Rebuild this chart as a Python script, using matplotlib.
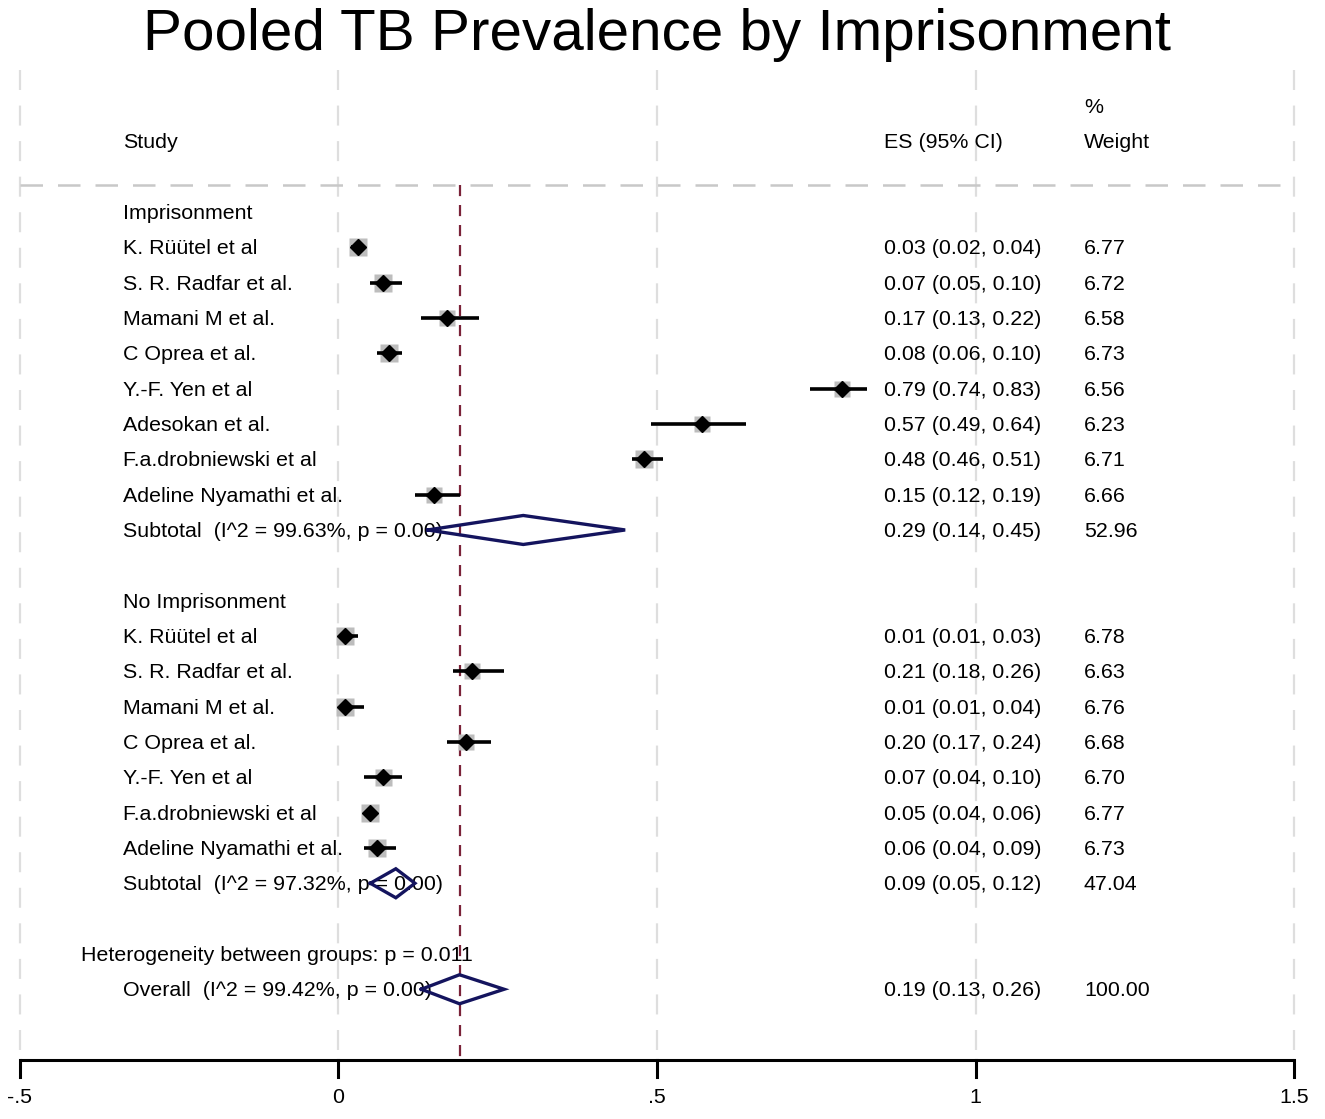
import matplotlib
matplotlib.use("Agg")
import matplotlib.pyplot as plt
import numpy as np

plt.rcParams['font.family'] = ['Liberation Sans', 'DejaVu Sans']

title = "Pooled TB Prevalence by Imprisonment"
group_names = ["Imprisonment", "No Imprisonment"]

studies_imp = ["K. Rüütel et al", "S. R. Radfar et al.", "Mamani M et al.", "C Oprea et al.",
               "Y.-F. Yen et al", "Adesokan et al.", "F.a.drobniewski et al", "Adeline Nyamathi et al."]
es_imp = [0.03, 0.07, 0.17, 0.08, 0.79, 0.57, 0.48, 0.15]
lo_imp = [0.02, 0.05, 0.13, 0.06, 0.74, 0.49, 0.46, 0.12]
hi_imp = [0.04, 0.10, 0.22, 0.10, 0.83, 0.64, 0.51, 0.19]
w_imp = [6.77, 6.72, 6.58, 6.73, 6.56, 6.23, 6.71, 6.66]
sub_imp = (0.29, 0.14, 0.45, 52.96)
sub_imp_label = "Subtotal  (I^2 = 99.63%, p = 0.00)"

studies_no = ["K. Rüütel et al", "S. R. Radfar et al.", "Mamani M et al.", "C Oprea et al.",
              "Y.-F. Yen et al", "F.a.drobniewski et al", "Adeline Nyamathi et al."]
es_no = [0.01, 0.21, 0.01, 0.20, 0.07, 0.05, 0.06]
lo_no = [0.01, 0.18, 0.01, 0.17, 0.04, 0.04, 0.04]
hi_no = [0.03, 0.26, 0.04, 0.24, 0.10, 0.06, 0.09]
w_no = [6.78, 6.63, 6.76, 6.68, 6.70, 6.77, 6.73]
sub_no = (0.09, 0.05, 0.12, 47.04)
sub_no_label = "Subtotal  (I^2 = 97.32%, p = 0.00)"

het_label = "Heterogeneity between groups: p = 0.011"
overall = (0.19, 0.13, 0.26, 100.00)
overall_label = "Overall  (I^2 = 99.42%, p = 0.00)"

xticks = [-0.5, 0, 0.5, 1, 1.5]
xticklabels = ["-.5", "0", ".5", "1", "1.5"]

W, H = 1325, 1119
fig = plt.figure(figsize=(W / 100, H / 100), dpi=100)
ax = fig.add_axes([0, 0, 1, 1])
# x: data units (pixel 20 -> -0.5, pixel 1294 -> 1.5); y: pixel rows from top
px_per_unit = (1294 - 20) / 2.0
x0 = -0.5 - 20 / px_per_unit
x1 = 1.5 + (W - 1294) / px_per_unit
ax.set_xlim(x0, x1)
ax.set_ylim(H, 0)
ax.axis('off')

def px2x(p):
    return -0.5 + (p - 20) / px_per_unit

row0 = 212
dy = 35.33
def rowy(i):
    return row0 + i * dy

fs = 15.4
toff = 1.5
col_study = px2x(123)
col_es = px2x(884)
col_w = px2x(1084)

def txt(x, y, s, **kw):
    ax.text(x, y + toff, s, fontsize=fs, va='center', ha=kw.pop('ha', 'left'), **kw)

# grid
for xt in xticks:
    ax.plot([xt, xt], [70, 1058], color='#dedede', lw=1.6, dashes=(9, 7), zorder=1)
ax.plot([-0.5, 1.5], [185, 185], color='#c8c8c8', lw=1.8, dashes=(9, 6), zorder=1)

# overall reference line
ax.plot([overall[0], overall[0]], [185, 1060], color='#7a2238', lw=1.6, dashes=(5, 4), zorder=2)

# headers
txt(col_study, 141, "Study")
txt(col_es, 141, "ES (95% CI)")
txt(col_w, 106, "%")
txt(col_w, 141, "Weight")

def fmt(e, l, h):
    return f"{e:.2f} ({l:.2f}, {h:.2f})"

def draw_study(i, name, e, l, h, w):
    y = rowy(i)
    s = 17 * np.sqrt(w / 6.7)
    ax.plot(e, y, marker='s', ms=s * 0.72, color='#bdbdbd', mec='none', zorder=3)
    ax.plot([l, h], [y, y], color='black', lw=2.6, zorder=4, solid_capstyle='butt')
    ax.plot(e, y, marker='D', ms=8.5, color='black', zorder=5)
    txt(col_study, y, name)
    txt(col_es, y, fmt(e, l, h))
    txt(col_w, y, f"{w:.2f}")

def draw_diamond(i, label, vals):
    e, l, h, w = vals
    y = rowy(i)
    hh = 14.5
    ax.plot([l, e, h, e, l], [y, y - hh, y, y + hh, y], color='#14145e', lw=2.4, zorder=6,
            solid_joinstyle='miter')
    txt(col_study, y, label, zorder=5)
    txt(col_es, y, fmt(e, l, h))
    txt(col_w, y, f"{w:.2f}")

i = 0
txt(col_study, rowy(i), group_names[0])
for k in range(len(studies_imp)):
    i += 1
    draw_study(i, studies_imp[k], es_imp[k], lo_imp[k], hi_imp[k], w_imp[k])
i += 1
draw_diamond(i, sub_imp_label, sub_imp)
i += 2
txt(col_study, rowy(i), group_names[1])
for k in range(len(studies_no)):
    i += 1
    draw_study(i, studies_no[k], es_no[k], lo_no[k], hi_no[k], w_no[k])
i += 1
draw_diamond(i, sub_no_label, sub_no)
i += 2
txt(px2x(81), rowy(i), het_label)
i += 1
draw_diamond(i, overall_label, overall)

# axis
ax.plot([-0.5, 1.5], [1060, 1060], color='black', lw=2.2, zorder=3, solid_capstyle='butt')
for xt, lab in zip(xticks, xticklabels):
    ax.plot([xt, xt], [1060, 1077], color='black', lw=2.2, zorder=3)
    txt(xt, 1096, lab, ha='center')

ax.text(px2x(657), 35, title, fontsize=42, va='center', ha='center')

fig.savefig("out.png", dpi=100)
